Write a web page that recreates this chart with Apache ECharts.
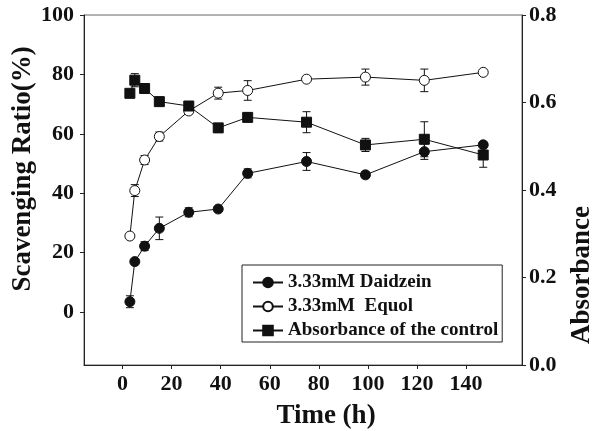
<!DOCTYPE html>
<html>
<head>
<meta charset="utf-8">
<script src="https://cdn.jsdelivr.net/npm/echarts@6/dist/echarts.min.js"></script>
<style>html,body{margin:0;padding:0;background:#fff}#c{width:595px;height:431px}</style>
</head>
<body>
<div id="c"></div>
<script>
const timeH = [3, 5, 9, 15, 27, 39, 51, 75, 99, 123, 147];
const daidzein = [3.5, 17.0, 22.2, 28.2, 33.6, 34.7, 46.7, 50.7, 46.2, 54.0, 56.3];
const daidzeinErr = [2, 0, 1.5, 3.8, 1.5, 0, 1.5, 3, 1, 2.6, 0];
const equol = [25.6, 40.9, 51.2, 59.1, 67.7, 73.7, 74.6, 78.4, 79.1, 78.0, 80.7];
const equolErr = [0, 2, 1.5, 1.5, 1, 2, 3.3, 0, 2.7, 3.8, 0];
const absorbance = [0.621, 0.651, 0.632, 0.602, 0.592, 0.542, 0.566, 0.555, 0.503, 0.516, 0.480];
const absorbanceErr = [0, 0.015, 0, 0.01, 0, 0.01, 0.01, 0.024, 0.015, 0.04, 0.028];
const xTicks = [0, 20, 40, 60, 80, 100, 120, 140];
const yTicks = [0, 20, 40, 60, 80, 100];
const names = ['3.33mM Daidzein', '3.33mM  Equol', 'Absorbance of the control'];

const FONT = '"Liberation Serif", "Times New Roman", serif';
const INK = '#111';

function pairs(ys) { return timeH.map((t, i) => [t, ys[i]]); }
function errs(ys, es) {
  const out = [];
  timeH.forEach((t, i) => { if (es[i] > 0) out.push([t, ys[i] - es[i], ys[i] + es[i]]); });
  return out;
}
function errRender(params, api) {
  const x = api.value(0), lo = api.value(1), hi = api.value(2);
  const a = api.coord([x, hi]), b = api.coord([x, lo]);
  const w = 4, st = { stroke: INK, lineWidth: 1 };
  return { type: 'group', children: [
    { type: 'line', shape: { x1: a[0], y1: a[1], x2: b[0], y2: b[1] }, style: st },
    { type: 'line', shape: { x1: a[0] - w, y1: a[1], x2: a[0] + w, y2: a[1] }, style: st },
    { type: 'line', shape: { x1: b[0] - w, y1: b[1], x2: b[0] + w, y2: b[1] }, style: st }
  ]};
}

const chart = echarts.init(document.getElementById('c'), null, { renderer: 'canvas' });
const axisLine = { show: true, onZero: false, lineStyle: { color: '#222', width: 1 } };
const lbl = { fontFamily: FONT, fontWeight: 'bold', fontSize: 22, color: INK };

chart.setOption({
  animation: false,
  backgroundColor: '#fff',
  grid: { left: 84, right: 73, top: 15, bottom: 66, show: true, borderColor: '#666', borderWidth: 1 },
  xAxis: {
    type: 'value', min: -15.7, max: 162.8,
    axisLine: axisLine,
    axisTick: { show: true, length: 4, customValues: xTicks, lineStyle: { color: '#222' } },
    axisLabel: Object.assign({ customValues: xTicks, margin: 8 }, lbl),
    splitLine: { show: false }
  },
  yAxis: [{
    type: 'value', min: -17.8, max: 100, position: 'left',
    axisLine: axisLine,
    axisTick: { show: true, length: 4, customValues: yTicks, lineStyle: { color: '#222' } },
    axisLabel: Object.assign({ customValues: yTicks, margin: 10 }, lbl),
    splitLine: { show: false }
  }, {
    type: 'value', min: 0, max: 0.8, interval: 0.2, position: 'right',
    axisLine: axisLine,
    axisTick: { show: true, length: 4, lineStyle: { color: '#222' } },
    axisLabel: Object.assign({ margin: 7, formatter: v => v.toFixed(1) }, lbl),
    splitLine: { show: false }
  }],
  legend: {
    data: names,
    orient: 'vertical',
    left: 242, top: 265,
    padding: [8, 4, 2, 10],
    itemGap: 5,
    itemWidth: 30, itemHeight: 12,
    borderColor: '#222', borderWidth: 1,
    textStyle: { fontFamily: FONT, fontWeight: 'bold', fontSize: 19, color: INK }
  },
  graphic: [
    { type: 'text', x: 23, y: 169, rotation: Math.PI / 2,
      style: { text: 'Scavenging Ratio(%)', font: 'bold 27px ' + FONT, fill: INK, align: 'center', verticalAlign: 'middle', textAlign: 'center', textVerticalAlign: 'middle' } },
    { type: 'text', x: 582, y: 275, rotation: Math.PI / 2,
      style: { text: 'Absorbance', font: 'bold 27px ' + FONT, fill: INK, align: 'center', verticalAlign: 'middle', textAlign: 'center', textVerticalAlign: 'middle' } },
    { type: 'text', x: 326, y: 416,
      style: { text: 'Time (h)', font: 'bold 27px ' + FONT, fill: INK, align: 'center', verticalAlign: 'middle', textAlign: 'center', textVerticalAlign: 'middle' } }
  ],
  series: [
    { name: 'errD', type: 'custom', renderItem: errRender, data: errs(daidzein, daidzeinErr), encode: { x: 0, y: [1, 2] }, z: 1, silent: true },
    { name: 'errE', type: 'custom', renderItem: errRender, data: errs(equol, equolErr), encode: { x: 0, y: [1, 2] }, z: 1, silent: true },
    { name: 'errA', type: 'custom', yAxisIndex: 1, renderItem: errRender, data: errs(absorbance, absorbanceErr), encode: { x: 0, y: [1, 2] }, z: 1, silent: true },
    { name: names[0], type: 'line', data: pairs(daidzein), symbol: 'circle', symbolSize: 10,
      itemStyle: { color: INK, borderColor: INK, borderWidth: 1 }, lineStyle: { color: INK, width: 1 }, z: 3 },
    { name: names[1], type: 'line', data: pairs(equol), symbol: 'circle', symbolSize: 10,
      itemStyle: { color: '#fff', borderColor: INK, borderWidth: 1 }, lineStyle: { color: INK, width: 1 }, z: 3 },
    { name: names[2], type: 'line', yAxisIndex: 1, data: pairs(absorbance), symbol: 'rect', symbolSize: 10,
      itemStyle: { color: INK, borderColor: INK, borderWidth: 1 }, lineStyle: { color: INK, width: 1 }, z: 3 }
  ]
});
</script>
</body>
</html>
